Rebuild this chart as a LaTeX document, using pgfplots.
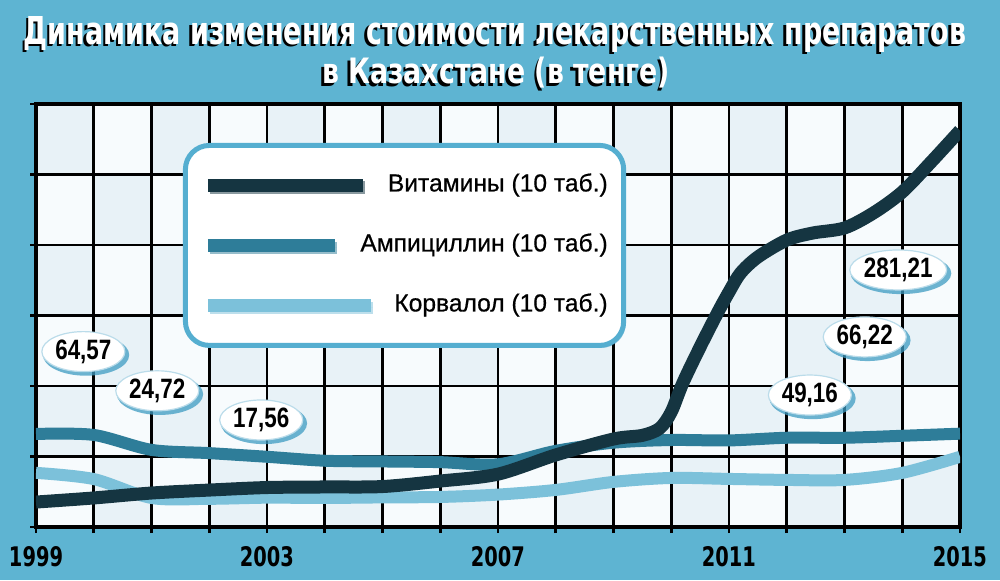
\documentclass[border=0pt]{standalone}
\usepackage{fontspec}
\usepackage{pgfplots}
\pgfplotsset{compat=1.18}
\usetikzlibrary{shadows,shapes.geometric}
\setmainfont{Liberation Sans}
\newfontfamily\heavy{DejaVu Sans}
\newfontfamily\legfont{Liberation Sans}[FakeBold=0.6]
\newfontfamily\lblfont{Liberation Sans}[FakeStretch=0.8]
\definecolor{bg}{HTML}{5EB4D2}
\definecolor{vit}{HTML}{153541}
\definecolor{amp}{HTML}{2E7D99}
\definecolor{kor}{HTML}{7CC1DA}
\definecolor{cellA}{HTML}{E8F2F7}
\definecolor{cellB}{HTML}{F7FBFD}
\definecolor{glow}{HTML}{3E9CC2}
\definecolor{legblue}{HTML}{55AED0}
\newcommand\yr[1]{\resizebox{27pt}{10pt}{\heavy\bfseries #1}}
\tikzset{lbl/.style={ellipse, fill=white, minimum width=41.5pt, minimum height=20pt, inner sep=0pt,
    draw=glow!35, line width=0.6pt,
    drop shadow={shadow xshift=1.3pt, shadow yshift=-1.6pt, shadow scale=1.04, fill=glow, opacity=0.75},
    font=\lblfont\bfseries\fontsize{14}{14}\selectfont}}
\pgfplotsset{
  korleg/.style={legend image code/.code={\path (0pt,0pt) (69pt,0pt);\draw[kor, line width=6.3pt, line cap=butt, overlay] (0pt,0pt) -- (81.5pt,0pt);}},
  ampleg/.style={legend image code/.code={\path (0pt,0pt) (69pt,0pt);\draw[amp, line width=6.3pt, line cap=butt] (0pt,0pt) -- (63.5pt,0pt);}},
  vitleg/.style={legend image code/.code={\path (0pt,0pt) (69pt,0pt);\draw[vit, line width=6.3pt, line cap=butt, overlay] (0pt,0pt) -- (77.5pt,0pt);}},
}
\begin{document}
\begin{tikzpicture}
\useasboundingbox (0,0) rectangle (500pt,290pt);
\fill[bg] (0,0) rectangle (500pt,290pt);
\foreach \c in {0,...,15}{\foreach \r in {0,...,5}{%
  \pgfmathtruncatemacro\pp{mod(\c+\r,2)}%
  \ifnum\pp=0
    \fill[cellA] ({18pt+\c*28.875pt},{238pt-\r*35.25pt}) rectangle ({18pt+(\c+1)*28.875pt},{238pt-(\r+1)*35.25pt});
  \else
    \fill[cellB] ({18pt+\c*28.875pt},{238pt-\r*35.25pt}) rectangle ({18pt+(\c+1)*28.875pt},{238pt-(\r+1)*35.25pt});
  \fi
}}
% title with shadow
\node[anchor=base, inner sep=0pt, text=black] at (246.2pt,266.7pt) {\resizebox{471pt}{14pt}{\heavy\bfseries Динамика изменения стоимости лекарственных препаратов}};
\node[anchor=base, inner sep=0pt, text=white] at (247.5pt,268pt) {\resizebox{471pt}{14pt}{\heavy\bfseries Динамика изменения стоимости лекарственных препаратов}};
\node[anchor=base, inner sep=0pt, text=black] at (246.7pt,246.95pt) {\resizebox{174pt}{13.25pt}{\heavy\bfseries в Казахстане (в тенге)}};
\node[anchor=base, inner sep=0pt, text=white] at (248pt,248.25pt) {\resizebox{174pt}{13.25pt}{\heavy\bfseries в Казахстане (в тенге)}};
\begin{axis}[
  at={(18pt,26.5pt)}, anchor=south west,
  width=462pt, height=211.5pt, scale only axis,
  xmin=1999, xmax=2015, ymin=0, ymax=300,
  xtick={1999,...,2015}, ytick={0,50,...,300},
  xticklabels={\yr{1999},,,,\yr{2003},,,,\yr{2007},,,,\yr{2011},,,,\yr{2015}},
  yticklabels={},
  xtick pos=bottom, ytick pos=left,
  tick align=outside, major tick length=3pt,
  every tick/.style={black, line width=1.4pt},
  grid=major, major grid style={black, line width=1.4pt},
  axis line style={black, line width=2pt},
  xticklabel style={inner sep=0pt, anchor=north, yshift=-6.5pt},
  reverse legend,
  legend cell align=right,
  legend style={at={(axis description cs:0.159,0.908)}, anchor=north west,
    draw=legblue, line width=2.5pt, rounded corners=12pt, fill=white,
    inner xsep=8pt, inner ysep=14pt, row sep=18pt, column sep=4pt,
    font=\legfont\fontsize{12.3}{12.3}\selectfont,
    nodes={inner sep=0pt, text height=9pt, text depth=3pt},
    drop shadow={shadow xshift=1pt, shadow yshift=-1.2pt, fill=glow, opacity=0.5}},
]
% Корвалол
\addplot[kor, line width=6pt, smooth, tension=0.5, korleg]
coordinates {(1999,38.4) (2000,34.0) (2001,20.6) (2002,20.0) (2003,20.8) (2004,20.6) (2005,21.0) (2006,21.3) (2007,23.0) (2008,26.3) (2009,32.0) (2010,34.8) (2011,34.1) (2012,33.4) (2013,33.4) (2014,38.4) (2015,49.8)};
\addlegendentry{Корвалол (10 таб.)}
% Ампициллин
\addplot[amp, line width=6pt, smooth, tension=0.5, ampleg]
coordinates {(1999,66.0) (2000,65.3) (2001,54.7) (2002,52.4) (2003,49.8) (2004,47.0) (2005,46.5) (2006,46.0) (2007,44.5) (2008,54.0) (2009,59.8) (2010,61.7) (2011,61.4) (2012,63.3) (2013,63.3) (2014,64.7) (2015,66.2)};
\addlegendentry{Ампициллин (10 таб.)}
% Витамины
\addplot[vit, line width=6.5pt, smooth, tension=0.5, vitleg]
coordinates {(1999,17.7) (2000,20.6) (2001,24.1) (2002,26.2) (2003,28.0) (2004,28.4) (2005,28.7) (2006,32.6) (2007,37.5) (2008,51.1) (2009,62.4) (2009.5,65.0) (2009.8,70.0) (2010,81.6) (2010.2,102.1) (2010.5,127.7) (2010.8,151.8) (2011,166.7) (2011.2,180.1) (2011.5,191.5) (2012,203.5) (2012.45,208.5) (2013,212.1) (2013.5,222.7) (2014,237.6) (2014.5,258.9) (2015,281.2)};
\addlegendentry{Витамины (10 таб.)}
\node[lbl] at (axis cs:1999.82,124.4) {64,57};
\node[lbl] at (axis cs:2001.1,96.6) {24,72};
\node[lbl] at (axis cs:2002.9,75.9) {17,56};
\node[lbl] at (axis cs:2013.93,182.3) {281,21};
\node[lbl] at (axis cs:2013.35,134.8) {66,22};
\node[lbl] at (axis cs:2012.4,93.6) {49,16};
\end{axis}
\end{tikzpicture}
\end{document}
